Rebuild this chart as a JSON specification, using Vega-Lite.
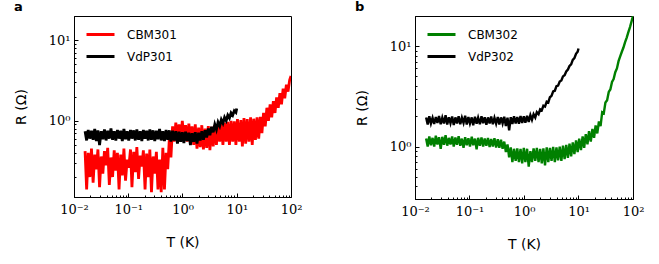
{
"$schema": "https://vega.github.io/schema/vega-lite/v6.json",
"padding": {"left": 13, "top": 0, "right": 0, "bottom": 0},
"bounds": "flush",
"spacing": 124,
"config": {
  "view": {"stroke": "black", "strokeWidth": 1},
  "axis": {"grid": false, "domainColor": "black", "tickColor": "black", "labelColor": "black", "titleColor": "black", "labelFlush": false, "labelOverlap": false, "labelBound": false},
  "legend": {"orient": "none", "legendX": 11, "legendY": 3, "title": null, "symbolType": "stroke", "symbolStrokeWidth": 3, "symbolSize": 784, "labelFontSize": 12, "labelFont": "DejaVu Sans", "labelColor": "black", "labelOffset": 11, "rowPadding": -8, "padding": 0},
  "title": {"anchor": "start", "frame": "bounds", "fontSize": 13, "fontWeight": "bold", "font": "DejaVu Sans", "offset": -4, "color": "black"}
},
"resolve": {"scale": {"color": "independent", "x": "independent", "y": "independent"}},
"hconcat": [
{
  "title": "a",
  "width": 217, "height": 181,
  "data": {"values": [
{"s":"CBM301","T":0.016,"R":0.42},{"s":"CBM301","T":0.0171,"R":0.14},{"s":"CBM301","T":0.0183,"R":0.4},{"s":"CBM301","T":0.0196,"R":0.2},{"s":"CBM301","T":0.021,"R":0.45},{"s":"CBM301","T":0.0225,"R":0.17},{"s":"CBM301","T":0.0241,"R":0.38},{"s":"CBM301","T":0.0258,"R":0.25},{"s":"CBM301","T":0.0276,"R":0.44},{"s":"CBM301","T":0.0296,"R":0.15},{"s":"CBM301","T":0.0317,"R":0.36},{"s":"CBM301","T":0.034,"R":0.22},{"s":"CBM301","T":0.0364,"R":0.42},{"s":"CBM301","T":0.039,"R":0.28},{"s":"CBM301","T":0.0418,"R":0.46},{"s":"CBM301","T":0.0448,"R":0.16},{"s":"CBM301","T":0.048,"R":0.35},{"s":"CBM301","T":0.0514,"R":0.2},{"s":"CBM301","T":0.0551,"R":0.43},{"s":"CBM301","T":0.059,"R":0.24},{"s":"CBM301","T":0.0632,"R":0.4},{"s":"CBM301","T":0.0677,"R":0.14},{"s":"CBM301","T":0.0725,"R":0.38},{"s":"CBM301","T":0.0777,"R":0.21},{"s":"CBM301","T":0.0832,"R":0.45},{"s":"CBM301","T":0.0891,"R":0.18},{"s":"CBM301","T":0.0955,"R":0.33},{"s":"CBM301","T":0.102,"R":0.26},{"s":"CBM301","T":0.11,"R":0.44},{"s":"CBM301","T":0.117,"R":0.15},{"s":"CBM301","T":0.126,"R":0.41},{"s":"CBM301","T":0.135,"R":0.23},{"s":"CBM301","T":0.144,"R":0.47},{"s":"CBM301","T":0.155,"R":0.19},{"s":"CBM301","T":0.166,"R":0.37},{"s":"CBM301","T":0.178,"R":0.27},{"s":"CBM301","T":0.19,"R":0.43},{"s":"CBM301","T":0.204,"R":0.14},{"s":"CBM301","T":0.218,"R":0.39},{"s":"CBM301","T":0.234,"R":0.2},{"s":"CBM301","T":0.25,"R":0.44},{"s":"CBM301","T":0.268,"R":0.13},{"s":"CBM301","T":0.287,"R":0.36},{"s":"CBM301","T":0.308,"R":0.22},{"s":"CBM301","T":0.33,"R":0.41},{"s":"CBM301","T":0.353,"R":0.14},{"s":"CBM301","T":0.378,"R":0.33},{"s":"CBM301","T":0.405,"R":0.13},{"s":"CBM301","T":0.434,"R":0.46},{"s":"CBM301","T":0.465,"R":0.14},{"s":"CBM301","T":0.498,"R":0.4},{"s":"CBM301","T":0.534,"R":0.25},{"s":"CBM301","T":0.572,"R":0.6},{"s":"CBM301","T":0.612,"R":0.35},{"s":"CBM301","T":0.656,"R":0.85},{"s":"CBM301","T":0.703,"R":0.55},{"s":"CBM301","T":0.753,"R":0.95},{"s":"CBM301","T":0.807,"R":0.6},{"s":"CBM301","T":0.864,"R":0.9},{"s":"CBM301","T":0.926,"R":0.58},{"s":"CBM301","T":0.992,"R":1.0},{"s":"CBM301","T":1.06,"R":0.6},{"s":"CBM301","T":1.14,"R":0.88},{"s":"CBM301","T":1.22,"R":0.55},{"s":"CBM301","T":1.31,"R":0.92},{"s":"CBM301","T":1.4,"R":0.57},{"s":"CBM301","T":1.5,"R":0.85},{"s":"CBM301","T":1.61,"R":0.5},{"s":"CBM301","T":1.72,"R":0.9},{"s":"CBM301","T":1.85,"R":0.45},{"s":"CBM301","T":1.98,"R":0.82},{"s":"CBM301","T":2.12,"R":0.47},{"s":"CBM301","T":2.27,"R":0.88},{"s":"CBM301","T":2.43,"R":0.44},{"s":"CBM301","T":2.61,"R":0.8},{"s":"CBM301","T":2.79,"R":0.46},{"s":"CBM301","T":2.99,"R":0.86},{"s":"CBM301","T":3.2,"R":0.43},{"s":"CBM301","T":3.43,"R":0.84},{"s":"CBM301","T":3.68,"R":0.48},{"s":"CBM301","T":3.94,"R":0.88},{"s":"CBM301","T":4.22,"R":0.5},{"s":"CBM301","T":4.52,"R":0.9},{"s":"CBM301","T":4.85,"R":0.55},{"s":"CBM301","T":5.19,"R":0.92},{"s":"CBM301","T":5.56,"R":0.5},{"s":"CBM301","T":5.96,"R":0.95},{"s":"CBM301","T":6.39,"R":0.55},{"s":"CBM301","T":6.84,"R":0.97},{"s":"CBM301","T":7.33,"R":0.5},{"s":"CBM301","T":7.85,"R":1.0},{"s":"CBM301","T":8.41,"R":0.55},{"s":"CBM301","T":9.01,"R":0.98},{"s":"CBM301","T":9.65,"R":0.5},{"s":"CBM301","T":10.3,"R":1.05},{"s":"CBM301","T":11.1,"R":0.55},{"s":"CBM301","T":11.9,"R":1.02},{"s":"CBM301","T":12.7,"R":0.48},{"s":"CBM301","T":13.6,"R":1.08},{"s":"CBM301","T":14.6,"R":0.52},{"s":"CBM301","T":15.6,"R":1.05},{"s":"CBM301","T":16.8,"R":0.55},{"s":"CBM301","T":18.0,"R":1.1},{"s":"CBM301","T":19.3,"R":0.5},{"s":"CBM301","T":20.6,"R":1.06},{"s":"CBM301","T":22.1,"R":0.58},{"s":"CBM301","T":23.7,"R":1.1},{"s":"CBM301","T":25.4,"R":0.6},{"s":"CBM301","T":27.2,"R":1.12},{"s":"CBM301","T":29.1,"R":0.7},{"s":"CBM301","T":31.2,"R":1.25},{"s":"CBM301","T":33.5,"R":0.85},{"s":"CBM301","T":35.9,"R":1.45},{"s":"CBM301","T":38.4,"R":1.0},{"s":"CBM301","T":41.2,"R":1.6},{"s":"CBM301","T":44.1,"R":1.1},{"s":"CBM301","T":47.3,"R":1.75},{"s":"CBM301","T":50.7,"R":1.25},{"s":"CBM301","T":54.3,"R":1.95},{"s":"CBM301","T":58.2,"R":1.45},{"s":"CBM301","T":62.4,"R":2.2},{"s":"CBM301","T":66.8,"R":1.6},{"s":"CBM301","T":71.6,"R":2.5},{"s":"CBM301","T":76.7,"R":1.9},{"s":"CBM301","T":82.2,"R":2.8},{"s":"CBM301","T":88.1,"R":2.3},{"s":"CBM301","T":94.4,"R":3.2},{"s":"CBM301","T":100,"R":3.6},
{"s":"VdP301","T":0.016,"R":0.74},{"s":"VdP301","T":0.0171,"R":0.57},{"s":"VdP301","T":0.0183,"R":0.77},{"s":"VdP301","T":0.0196,"R":0.6},{"s":"VdP301","T":0.021,"R":0.75},{"s":"VdP301","T":0.0225,"R":0.58},{"s":"VdP301","T":0.0241,"R":0.79},{"s":"VdP301","T":0.0258,"R":0.56},{"s":"VdP301","T":0.0276,"R":0.76},{"s":"VdP301","T":0.0296,"R":0.5},{"s":"VdP301","T":0.0317,"R":0.74},{"s":"VdP301","T":0.034,"R":0.59},{"s":"VdP301","T":0.0364,"R":0.78},{"s":"VdP301","T":0.039,"R":0.57},{"s":"VdP301","T":0.0418,"R":0.75},{"s":"VdP301","T":0.0448,"R":0.6},{"s":"VdP301","T":0.048,"R":0.8},{"s":"VdP301","T":0.0514,"R":0.58},{"s":"VdP301","T":0.0551,"R":0.74},{"s":"VdP301","T":0.059,"R":0.57},{"s":"VdP301","T":0.0632,"R":0.77},{"s":"VdP301","T":0.0677,"R":0.6},{"s":"VdP301","T":0.0725,"R":0.75},{"s":"VdP301","T":0.0777,"R":0.56},{"s":"VdP301","T":0.0832,"R":0.79},{"s":"VdP301","T":0.0891,"R":0.59},{"s":"VdP301","T":0.0955,"R":0.74},{"s":"VdP301","T":0.102,"R":0.57},{"s":"VdP301","T":0.11,"R":0.77},{"s":"VdP301","T":0.117,"R":0.6},{"s":"VdP301","T":0.126,"R":0.76},{"s":"VdP301","T":0.135,"R":0.57},{"s":"VdP301","T":0.144,"R":0.78},{"s":"VdP301","T":0.155,"R":0.58},{"s":"VdP301","T":0.166,"R":0.74},{"s":"VdP301","T":0.178,"R":0.56},{"s":"VdP301","T":0.19,"R":0.77},{"s":"VdP301","T":0.204,"R":0.6},{"s":"VdP301","T":0.218,"R":0.75},{"s":"VdP301","T":0.234,"R":0.57},{"s":"VdP301","T":0.25,"R":0.78},{"s":"VdP301","T":0.268,"R":0.58},{"s":"VdP301","T":0.287,"R":0.76},{"s":"VdP301","T":0.308,"R":0.56},{"s":"VdP301","T":0.33,"R":0.75},{"s":"VdP301","T":0.353,"R":0.59},{"s":"VdP301","T":0.378,"R":0.79},{"s":"VdP301","T":0.405,"R":0.57},{"s":"VdP301","T":0.434,"R":0.74},{"s":"VdP301","T":0.465,"R":0.56},{"s":"VdP301","T":0.498,"R":0.77},{"s":"VdP301","T":0.534,"R":0.58},{"s":"VdP301","T":0.572,"R":0.76},{"s":"VdP301","T":0.612,"R":0.55},{"s":"VdP301","T":0.656,"R":0.75},{"s":"VdP301","T":0.703,"R":0.57},{"s":"VdP301","T":0.753,"R":0.74},{"s":"VdP301","T":0.807,"R":0.52},{"s":"VdP301","T":0.864,"R":0.73},{"s":"VdP301","T":0.926,"R":0.55},{"s":"VdP301","T":0.992,"R":0.72},{"s":"VdP301","T":1.06,"R":0.53},{"s":"VdP301","T":1.14,"R":0.73},{"s":"VdP301","T":1.22,"R":0.56},{"s":"VdP301","T":1.31,"R":0.71},{"s":"VdP301","T":1.4,"R":0.5},{"s":"VdP301","T":1.5,"R":0.7},{"s":"VdP301","T":1.61,"R":0.55},{"s":"VdP301","T":1.72,"R":0.72},{"s":"VdP301","T":1.85,"R":0.52},{"s":"VdP301","T":1.98,"R":0.71},{"s":"VdP301","T":2.12,"R":0.57},{"s":"VdP301","T":2.27,"R":0.74},{"s":"VdP301","T":2.43,"R":0.58},{"s":"VdP301","T":2.61,"R":0.76},{"s":"VdP301","T":2.79,"R":0.62},{"s":"VdP301","T":2.99,"R":0.8},{"s":"VdP301","T":3.2,"R":0.66},{"s":"VdP301","T":3.43,"R":0.84},{"s":"VdP301","T":3.68,"R":0.72},{"s":"VdP301","T":3.94,"R":0.9},{"s":"VdP301","T":4.22,"R":0.78},{"s":"VdP301","T":4.52,"R":0.96},{"s":"VdP301","T":4.85,"R":0.86},{"s":"VdP301","T":5.19,"R":1.03},{"s":"VdP301","T":5.56,"R":0.93},{"s":"VdP301","T":5.96,"R":1.1},{"s":"VdP301","T":6.39,"R":1.0},{"s":"VdP301","T":6.84,"R":1.17},{"s":"VdP301","T":7.33,"R":1.08},{"s":"VdP301","T":7.85,"R":1.25},{"s":"VdP301","T":8.41,"R":1.17},{"s":"VdP301","T":9.01,"R":1.33},{"s":"VdP301","T":9.65,"R":1.27},{"s":"VdP301","T":10,"R":1.42}
  ]},
  "mark": {"type": "line", "strokeWidth": 2.8, "clip": true},
  "encoding": {
    "x": {"field": "T", "type": "quantitative", "scale": {"type": "log", "domain": [0.01, 100], "nice": false},
      "axis": {"title": "T (K)", "values": [0.01,0.02,0.03,0.04,0.05,0.06,0.07,0.08,0.09,0.1,0.2,0.3,0.4,0.5,0.6,0.7,0.8,0.9,1,2,3,4,5,6,7,8,9,10,20,30,40,50,60,70,80,90,100],
        "labelExpr": "datum.value==0.01?'10⁻²':datum.value==0.1?'10⁻¹':datum.value==1?'10⁰':datum.value==10?'10¹':datum.value==100?'10²':''",
        "tickSize": {"condition": {"test": "datum.value==0.01||datum.value==0.1||datum.value==1||datum.value==10||datum.value==100", "value": -4}, "value": -2},
        "labelFont": "DejaVu Serif", "labelFontSize": 13, "titleFont": "DejaVu Sans", "titleFontSize": 14, "titleFontWeight": "normal",
        "labelPadding": 10, "minExtent": 26, "maxExtent": 26, "titlePadding": 12}},
    "y": {"field": "R", "type": "quantitative", "scale": {"type": "log", "domain": [0.113, 20], "nice": false},
      "axis": {"title": "R (Ω)", "values": [0.2,0.3,0.4,0.5,0.6,0.7,0.8,0.9,1,2,3,4,5,6,7,8,9,10,20],
        "labelExpr": "datum.value==1?'10⁰':datum.value==10?'10¹':''",
        "tickSize": {"condition": {"test": "datum.value==1||datum.value==10", "value": -4}, "value": -2},
        "labelFont": "DejaVu Serif", "labelFontSize": 13, "titleFont": "DejaVu Sans", "titleFontSize": 14, "titleFontWeight": "normal",
        "labelPadding": 8, "minExtent": 32, "maxExtent": 32, "titlePadding": 14}},
    "color": {"field": "s", "type": "nominal", "scale": {"domain": ["CBM301", "VdP301"], "range": ["#ff0000", "#000000"]}}
  }
},
{
  "title": "b",
  "width": 218, "height": 183,
  "data": {"values": [
{"s":"CBM302","T":0.016,"R":1.2},{"s":"CBM302","T":0.0171,"R":1.0},{"s":"CBM302","T":0.0183,"R":1.26},{"s":"CBM302","T":0.0196,"R":1.03},{"s":"CBM302","T":0.021,"R":1.22},{"s":"CBM302","T":0.0225,"R":1.0},{"s":"CBM302","T":0.0241,"R":1.28},{"s":"CBM302","T":0.0258,"R":1.05},{"s":"CBM302","T":0.0276,"R":1.24},{"s":"CBM302","T":0.0296,"R":0.95},{"s":"CBM302","T":0.0317,"R":1.25},{"s":"CBM302","T":0.034,"R":1.04},{"s":"CBM302","T":0.0364,"R":1.3},{"s":"CBM302","T":0.039,"R":1.02},{"s":"CBM302","T":0.0418,"R":1.22},{"s":"CBM302","T":0.0448,"R":1.05},{"s":"CBM302","T":0.048,"R":1.26},{"s":"CBM302","T":0.0514,"R":1.0},{"s":"CBM302","T":0.0551,"R":1.23},{"s":"CBM302","T":0.059,"R":1.04},{"s":"CBM302","T":0.0632,"R":1.27},{"s":"CBM302","T":0.0677,"R":1.02},{"s":"CBM302","T":0.0725,"R":1.2},{"s":"CBM302","T":0.0777,"R":0.97},{"s":"CBM302","T":0.0832,"R":1.24},{"s":"CBM302","T":0.0891,"R":1.03},{"s":"CBM302","T":0.0955,"R":1.21},{"s":"CBM302","T":0.102,"R":1.0},{"s":"CBM302","T":0.11,"R":1.25},{"s":"CBM302","T":0.117,"R":1.03},{"s":"CBM302","T":0.126,"R":1.2},{"s":"CBM302","T":0.135,"R":0.94},{"s":"CBM302","T":0.144,"R":1.22},{"s":"CBM302","T":0.155,"R":1.02},{"s":"CBM302","T":0.166,"R":1.23},{"s":"CBM302","T":0.178,"R":1.0},{"s":"CBM302","T":0.19,"R":1.2},{"s":"CBM302","T":0.204,"R":1.02},{"s":"CBM302","T":0.218,"R":1.22},{"s":"CBM302","T":0.234,"R":0.99},{"s":"CBM302","T":0.25,"R":1.19},{"s":"CBM302","T":0.268,"R":1.0},{"s":"CBM302","T":0.287,"R":1.21},{"s":"CBM302","T":0.308,"R":0.98},{"s":"CBM302","T":0.33,"R":1.18},{"s":"CBM302","T":0.353,"R":0.97},{"s":"CBM302","T":0.378,"R":1.17},{"s":"CBM302","T":0.405,"R":0.95},{"s":"CBM302","T":0.434,"R":1.12},{"s":"CBM302","T":0.465,"R":0.88},{"s":"CBM302","T":0.498,"R":1.05},{"s":"CBM302","T":0.534,"R":0.78},{"s":"CBM302","T":0.572,"R":0.98},{"s":"CBM302","T":0.612,"R":0.7},{"s":"CBM302","T":0.656,"R":0.95},{"s":"CBM302","T":0.703,"R":0.72},{"s":"CBM302","T":0.753,"R":0.96},{"s":"CBM302","T":0.807,"R":0.7},{"s":"CBM302","T":0.864,"R":0.95},{"s":"CBM302","T":0.926,"R":0.68},{"s":"CBM302","T":0.992,"R":0.97},{"s":"CBM302","T":1.06,"R":0.7},{"s":"CBM302","T":1.14,"R":0.95},{"s":"CBM302","T":1.22,"R":0.63},{"s":"CBM302","T":1.31,"R":0.9},{"s":"CBM302","T":1.4,"R":0.7},{"s":"CBM302","T":1.5,"R":0.96},{"s":"CBM302","T":1.61,"R":0.72},{"s":"CBM302","T":1.72,"R":0.97},{"s":"CBM302","T":1.85,"R":0.7},{"s":"CBM302","T":1.98,"R":0.95},{"s":"CBM302","T":2.12,"R":0.68},{"s":"CBM302","T":2.27,"R":0.96},{"s":"CBM302","T":2.43,"R":0.65},{"s":"CBM302","T":2.61,"R":0.98},{"s":"CBM302","T":2.79,"R":0.7},{"s":"CBM302","T":2.99,"R":0.97},{"s":"CBM302","T":3.2,"R":0.72},{"s":"CBM302","T":3.43,"R":0.99},{"s":"CBM302","T":3.68,"R":0.7},{"s":"CBM302","T":3.94,"R":0.98},{"s":"CBM302","T":4.22,"R":0.73},{"s":"CBM302","T":4.52,"R":1.0},{"s":"CBM302","T":4.85,"R":0.72},{"s":"CBM302","T":5.19,"R":1.02},{"s":"CBM302","T":5.56,"R":0.75},{"s":"CBM302","T":5.96,"R":1.04},{"s":"CBM302","T":6.39,"R":0.77},{"s":"CBM302","T":6.84,"R":1.07},{"s":"CBM302","T":7.33,"R":0.8},{"s":"CBM302","T":7.85,"R":1.1},{"s":"CBM302","T":8.41,"R":0.84},{"s":"CBM302","T":9.01,"R":1.15},{"s":"CBM302","T":9.65,"R":0.88},{"s":"CBM302","T":10.3,"R":1.2},{"s":"CBM302","T":11.1,"R":0.92},{"s":"CBM302","T":11.9,"R":1.26},{"s":"CBM302","T":12.7,"R":0.97},{"s":"CBM302","T":13.6,"R":1.33},{"s":"CBM302","T":14.6,"R":1.05},{"s":"CBM302","T":15.6,"R":1.42},{"s":"CBM302","T":16.8,"R":1.12},{"s":"CBM302","T":18.0,"R":1.5},{"s":"CBM302","T":19.3,"R":1.22},{"s":"CBM302","T":20.6,"R":1.62},{"s":"CBM302","T":22.1,"R":1.35},{"s":"CBM302","T":23.7,"R":1.78},{"s":"CBM302","T":25.4,"R":1.6},{"s":"CBM302","T":27.2,"R":2.2},{"s":"CBM302","T":29.1,"R":2.15},{"s":"CBM302","T":31.2,"R":2.75},{"s":"CBM302","T":33.5,"R":2.9},{"s":"CBM302","T":35.9,"R":3.5},{"s":"CBM302","T":38.4,"R":3.7},{"s":"CBM302","T":41.2,"R":4.4},{"s":"CBM302","T":44.1,"R":4.7},{"s":"CBM302","T":47.3,"R":5.5},{"s":"CBM302","T":50.7,"R":6.0},{"s":"CBM302","T":54.3,"R":7.1},{"s":"CBM302","T":58.2,"R":7.9},{"s":"CBM302","T":62.4,"R":8.8},{"s":"CBM302","T":66.8,"R":9.7},{"s":"CBM302","T":71.6,"R":11.0},{"s":"CBM302","T":76.7,"R":12.2},{"s":"CBM302","T":82.2,"R":13.8},{"s":"CBM302","T":88.1,"R":15.5},{"s":"CBM302","T":94.4,"R":17.8},{"s":"CBM302","T":100,"R":20},
{"s":"VdP302","T":0.016,"R":1.95},{"s":"VdP302","T":0.0171,"R":1.66},{"s":"VdP302","T":0.0183,"R":2.0},{"s":"VdP302","T":0.0196,"R":1.7},{"s":"VdP302","T":0.021,"R":1.93},{"s":"VdP302","T":0.0225,"R":1.68},{"s":"VdP302","T":0.0241,"R":1.97},{"s":"VdP302","T":0.0258,"R":1.72},{"s":"VdP302","T":0.0276,"R":2.02},{"s":"VdP302","T":0.0296,"R":1.67},{"s":"VdP302","T":0.0317,"R":1.94},{"s":"VdP302","T":0.034,"R":1.7},{"s":"VdP302","T":0.0364,"R":2.05},{"s":"VdP302","T":0.039,"R":1.66},{"s":"VdP302","T":0.0418,"R":1.96},{"s":"VdP302","T":0.0448,"R":1.71},{"s":"VdP302","T":0.048,"R":1.99},{"s":"VdP302","T":0.0514,"R":1.64},{"s":"VdP302","T":0.0551,"R":1.95},{"s":"VdP302","T":0.059,"R":1.7},{"s":"VdP302","T":0.0632,"R":2.0},{"s":"VdP302","T":0.0677,"R":1.67},{"s":"VdP302","T":0.0725,"R":1.94},{"s":"VdP302","T":0.0777,"R":1.72},{"s":"VdP302","T":0.0832,"R":2.03},{"s":"VdP302","T":0.0891,"R":1.66},{"s":"VdP302","T":0.0955,"R":1.97},{"s":"VdP302","T":0.102,"R":1.7},{"s":"VdP302","T":0.11,"R":1.95},{"s":"VdP302","T":0.117,"R":1.63},{"s":"VdP302","T":0.126,"R":1.98},{"s":"VdP302","T":0.135,"R":1.69},{"s":"VdP302","T":0.144,"R":1.94},{"s":"VdP302","T":0.155,"R":1.67},{"s":"VdP302","T":0.166,"R":2.0},{"s":"VdP302","T":0.178,"R":1.71},{"s":"VdP302","T":0.19,"R":1.96},{"s":"VdP302","T":0.204,"R":1.65},{"s":"VdP302","T":0.218,"R":1.95},{"s":"VdP302","T":0.234,"R":1.7},{"s":"VdP302","T":0.25,"R":1.99},{"s":"VdP302","T":0.268,"R":1.67},{"s":"VdP302","T":0.287,"R":1.93},{"s":"VdP302","T":0.308,"R":1.69},{"s":"VdP302","T":0.33,"R":1.97},{"s":"VdP302","T":0.353,"R":1.66},{"s":"VdP302","T":0.378,"R":1.95},{"s":"VdP302","T":0.405,"R":1.7},{"s":"VdP302","T":0.434,"R":1.98},{"s":"VdP302","T":0.465,"R":1.6},{"s":"VdP302","T":0.498,"R":1.94},{"s":"VdP302","T":0.534,"R":1.45},{"s":"VdP302","T":0.572,"R":1.96},{"s":"VdP302","T":0.612,"R":1.68},{"s":"VdP302","T":0.656,"R":2.0},{"s":"VdP302","T":0.703,"R":1.7},{"s":"VdP302","T":0.753,"R":1.97},{"s":"VdP302","T":0.807,"R":1.69},{"s":"VdP302","T":0.864,"R":2.02},{"s":"VdP302","T":0.926,"R":1.72},{"s":"VdP302","T":0.992,"R":2.0},{"s":"VdP302","T":1.06,"R":1.73},{"s":"VdP302","T":1.14,"R":2.03},{"s":"VdP302","T":1.22,"R":1.76},{"s":"VdP302","T":1.31,"R":2.05},{"s":"VdP302","T":1.4,"R":1.85},{"s":"VdP302","T":1.5,"R":2.1},{"s":"VdP302","T":1.61,"R":1.95},{"s":"VdP302","T":1.72,"R":2.2},{"s":"VdP302","T":1.85,"R":2.1},{"s":"VdP302","T":1.98,"R":2.35},{"s":"VdP302","T":2.12,"R":2.3},{"s":"VdP302","T":2.27,"R":2.55},{"s":"VdP302","T":2.43,"R":2.5},{"s":"VdP302","T":2.61,"R":2.8},{"s":"VdP302","T":2.79,"R":2.75},{"s":"VdP302","T":2.99,"R":3.1},{"s":"VdP302","T":3.2,"R":3.2},{"s":"VdP302","T":3.43,"R":3.55},{"s":"VdP302","T":3.68,"R":3.6},{"s":"VdP302","T":3.94,"R":4.0},{"s":"VdP302","T":4.22,"R":4.05},{"s":"VdP302","T":4.52,"R":4.45},{"s":"VdP302","T":4.85,"R":4.55},{"s":"VdP302","T":5.19,"R":5.0},{"s":"VdP302","T":5.56,"R":5.15},{"s":"VdP302","T":5.96,"R":5.6},{"s":"VdP302","T":6.39,"R":5.85},{"s":"VdP302","T":6.84,"R":6.35},{"s":"VdP302","T":7.33,"R":6.6},{"s":"VdP302","T":7.85,"R":7.3},{"s":"VdP302","T":8.41,"R":7.6},{"s":"VdP302","T":9.01,"R":8.4},{"s":"VdP302","T":9.65,"R":8.8},{"s":"VdP302","T":10,"R":9.5}
  ]},
  "mark": {"type": "line", "strokeWidth": 2.4, "clip": true},
  "encoding": {
    "x": {"field": "T", "type": "quantitative", "scale": {"type": "log", "domain": [0.01, 100], "nice": false},
      "axis": {"title": "T (K)", "values": [0.01,0.02,0.03,0.04,0.05,0.06,0.07,0.08,0.09,0.1,0.2,0.3,0.4,0.5,0.6,0.7,0.8,0.9,1,2,3,4,5,6,7,8,9,10,20,30,40,50,60,70,80,90,100],
        "labelExpr": "datum.value==0.01?'10⁻²':datum.value==0.1?'10⁻¹':datum.value==1?'10⁰':datum.value==10?'10¹':datum.value==100?'10²':''",
        "tickSize": {"condition": {"test": "datum.value==0.01||datum.value==0.1||datum.value==1||datum.value==10||datum.value==100", "value": -4}, "value": -2},
        "labelFont": "DejaVu Serif", "labelFontSize": 13, "titleFont": "DejaVu Sans", "titleFontSize": 14, "titleFontWeight": "normal",
        "labelPadding": 10, "minExtent": 26, "maxExtent": 26, "titlePadding": 12}},
    "y": {"field": "R", "type": "quantitative", "scale": {"type": "log", "domain": [0.3, 20], "nice": false},
      "axis": {"title": "R (Ω)", "values": [0.3,0.4,0.5,0.6,0.7,0.8,0.9,1,2,3,4,5,6,7,8,9,10,20],
        "labelExpr": "datum.value==1?'10⁰':datum.value==10?'10¹':''",
        "tickSize": {"condition": {"test": "datum.value==1||datum.value==10", "value": -4}, "value": -2},
        "labelFont": "DejaVu Serif", "labelFontSize": 13, "titleFont": "DejaVu Sans", "titleFontSize": 14, "titleFontWeight": "normal",
        "labelPadding": 8, "minExtent": 32, "maxExtent": 32, "titlePadding": 14}},
    "color": {"field": "s", "type": "nominal", "scale": {"domain": ["CBM302", "VdP302"], "range": ["#008000", "#000000"]}}
  }
}
]
}
